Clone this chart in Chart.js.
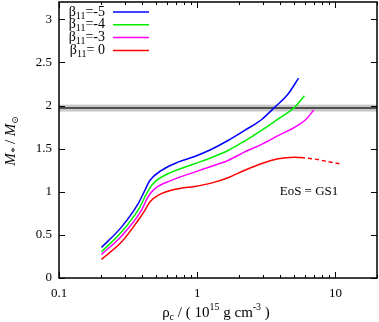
<!DOCTYPE html>
<html>
<head>
<meta charset="utf-8">
<script src="https://cdn.jsdelivr.net/npm/chart.js"></script>
<style>
  html, body { margin: 0; padding: 0; background: #fff; }
  #wrap { width: 379px; height: 322px; }
</style>
</head>
<body>
<div id="wrap"><canvas id="chart" width="379" height="322"></canvas></div>
<script>
// values: central density (1e15 g/cm^3) vs M/Msun
const rhoB5  = [0.203, 0.284, 0.374, 0.418, 0.454, 0.551, 0.726, 0.958, 1.26, 1.67, 2.19, 2.9, 3.63, 4.53, 5.41];
const massB5 = [0.354, 0.593, 0.862, 1.016, 1.13, 1.247, 1.343, 1.409, 1.49, 1.594, 1.709, 1.832, 1.978, 2.13, 2.317];

const rhoB4  = [0.203, 0.284, 0.385, 0.43, 0.479, 0.615, 0.958, 1.26, 1.67, 2.19, 2.9, 3.85, 5.06, 5.97];
const massB4 = [0.304, 0.535, 0.823, 0.978, 1.094, 1.209, 1.324, 1.394, 1.478, 1.585, 1.709, 1.844, 1.978, 2.113];

const rhoB3  = [0.203, 0.284, 0.395, 0.44, 0.494, 0.65, 0.958, 1.26, 1.67, 2.19, 2.9, 3.85, 5.06, 6.17, 6.97];
const massB3 = [0.274, 0.488, 0.785, 0.939, 1.036, 1.132, 1.228, 1.293, 1.363, 1.459, 1.547, 1.651, 1.747, 1.844, 1.948];

const rhoB0  = [0.203, 0.284, 0.374, 0.418, 0.454, 0.52, 0.726, 0.958, 1.26, 1.67, 2.19, 2.9, 3.85, 5.06, 5.64];
const massB0 = [0.216, 0.419, 0.67, 0.785, 0.881, 0.958, 1.036, 1.062, 1.10, 1.163, 1.247, 1.324, 1.382, 1.40, 1.397];

// unstable branch of the beta11 = 0 curve (dashed)
const rhoB0dash  = [5.64, 7.0, 8.8, 10.7];
const massB0dash = [1.397, 1.38, 1.35, 1.325];

const legendNames = ['-5', '-4', '-3', ' 0'];
const lineColors = ['#0000ff', '#00ee00', '#ff00ff', '#ff0000'];

// observed 1.97 +- 0.04 Msun band
const bandMid = 1.97;
const bandLow = 1.93;
const bandHigh = 2.01;

const xTicks = [0.1, 1, 10];
const xMinorTicks = [0.2, 0.3, 0.4, 0.5, 0.6, 0.7, 0.8, 0.9, 2, 3, 4, 5, 6, 7, 8, 9, 20];
const yTicks = [0, 0.5, 1, 1.5, 2, 2.5, 3];

const SERIF = '"Liberation Serif", "DejaVu Serif", serif';

const toPoints = (xs, ys) => xs.map((x, i) => ({ x: x, y: ys[i] }));

const makeSet = (data, color, dash) => ({
    data: data,
    showLine: true,
    borderColor: color,
    borderWidth: 1.5,
    borderDash: dash || [],
    pointRadius: 0,
    fill: false,
    cubicInterpolationMode: 'monotone'
});

// draw a run of text pieces with sub/superscripts, return total width
const drawPieces = (ctx, pieces, x, y, measureOnly) => {
    let cx = x;
    pieces.forEach(p => {
        ctx.font = (p.italic ? 'italic ' : '') + p.size + 'px ' + SERIF;
        if (!measureOnly) ctx.fillText(p.t, cx, y + (p.dy || 0));
        cx += ctx.measureText(p.t).width;
    });
    return cx - x;
};

const decorPlugin = {
    id: 'decor',
    beforeDatasetsDraw(chart) {
        const { ctx, chartArea: a, scales: { y } } = chart;
        ctx.save();
        ctx.fillStyle = '#c8c8c8';
        const yt = y.getPixelForValue(bandHigh);
        const yb = y.getPixelForValue(bandLow);
        ctx.fillRect(a.left, yt, a.right - a.left, yb - yt);
        ctx.strokeStyle = '#505050';
        ctx.lineWidth = 2;
        ctx.beginPath();
        ctx.moveTo(a.left, y.getPixelForValue(bandMid));
        ctx.lineTo(a.right, y.getPixelForValue(bandMid));
        ctx.stroke();
        ctx.restore();
    },
    afterDraw(chart) {
        const { ctx, chartArea: a, scales: { x, y } } = chart;
        ctx.save();
        ctx.strokeStyle = '#000';
        ctx.lineWidth = 1.5;
        ctx.strokeRect(a.left, a.top, a.right - a.left, a.bottom - a.top);

        // inward ticks
        ctx.lineWidth = 1;
        ctx.beginPath();
        const xt = (v, len) => {
            const px = Math.round(x.getPixelForValue(v)) + 0.5;
            ctx.moveTo(px, a.bottom); ctx.lineTo(px, a.bottom - len);
            ctx.moveTo(px, a.top); ctx.lineTo(px, a.top + len);
        };
        xTicks.forEach(v => xt(v, 6));
        xMinorTicks.forEach(v => xt(v, 3));
        yTicks.forEach(v => {
            const py = Math.round(y.getPixelForValue(v)) + 0.5;
            ctx.moveTo(a.left, py); ctx.lineTo(a.left + 6, py);
            ctx.moveTo(a.right, py); ctx.lineTo(a.right - 6, py);
        });
        ctx.stroke();

        // legend
        ctx.fillStyle = '#000';
        ctx.textBaseline = 'middle';
        ctx.textAlign = 'left';
        legendNames.forEach((name, i) => {
            const ly = 12 + 12.8 * i;
            const pieces = [
                { t: '\u03b2', size: 14 },
                { t: '11', size: 10, dy: 4 },
                { t: '=' + name, size: 14 }
            ];
            const w = drawPieces(ctx, pieces, 0, 0, true);
            drawPieces(ctx, pieces, 105 - w, ly);
            ctx.strokeStyle = lineColors[i];
            ctx.lineWidth = 1.5;
            ctx.beginPath();
            ctx.moveTo(113, ly);
            ctx.lineTo(149, ly);
            ctx.stroke();
        });

        // annotation
        ctx.font = '13px ' + SERIF;
        ctx.textAlign = 'center';
        ctx.fillText('EoS = GS1', 309, 192);

        // x title
        ctx.textAlign = 'left';
        ctx.textBaseline = 'alphabetic';
        const xt1 = [
            { t: '\u03c1', size: 15 },
            { t: 'c', size: 10, dy: 3 },
            { t: ' / ( 10', size: 15 },
            { t: '15', size: 10, dy: -7 },
            { t: ' g cm', size: 15 },
            { t: '-3', size: 10, dy: -7 },
            { t: ' )', size: 15 }
        ];
        const wx = drawPieces(ctx, xt1, 0, 0, true);
        drawPieces(ctx, xt1, 216 - wx / 2, 317);

        // y title, rotated
        ctx.translate(15, 141);
        ctx.rotate(-Math.PI / 2);
        const yt1 = [
            { t: 'M', size: 15, italic: true },
            { t: '*', size: 11, dy: 3, italic: true },
            { t: ' / ', size: 15 },
            { t: 'M', size: 15, italic: true },
            { t: '\u2299', size: 9, dy: 3 }
        ];
        const wy = drawPieces(ctx, yt1, 0, 0, true);
        drawPieces(ctx, yt1, -wy / 2, 0);
        ctx.restore();
    }
};

new Chart(document.getElementById('chart'), {
    type: 'scatter',
    data: {
        datasets: [
            makeSet(toPoints(rhoB5, massB5), lineColors[0]),
            makeSet(toPoints(rhoB4, massB4), lineColors[1]),
            makeSet(toPoints(rhoB3, massB3), lineColors[2]),
            makeSet(toPoints(rhoB0, massB0), lineColors[3]),
            makeSet(toPoints(rhoB0dash, massB0dash), lineColors[3], [4, 3])
        ]
    },
    options: {
        responsive: false,
        animation: false,
        layout: { padding: { top: 2, right: 2, left: 0, bottom: 0 } },
        plugins: {
            legend: { display: false },
            tooltip: { enabled: false }
        },
        scales: {
            x: {
                type: 'logarithmic',
                min: 0.1,
                max: 20,
                afterBuildTicks: s => { s.ticks = xTicks.map(v => ({ value: v })); },
                afterFit: s => {
                    s.height = 44;
                    s.paddingLeft = 0; s.paddingRight = 0;
                },
                ticks: {
                    color: '#000',
                    font: { family: SERIF, size: 13 },
                    padding: 8,
                    maxRotation: 0,
                    autoSkip: false,
                    callback: v => String(v)
                },
                grid: { display: false, drawTicks: false },
                border: { display: false }
            },
            y: {
                min: 0,
                max: 3.2,
                afterBuildTicks: s => { s.ticks = yTicks.map(v => ({ value: v })); },
                afterFit: s => {
                    s.width = 59;
                    s.paddingTop = 0; s.paddingBottom = 0;
                },
                ticks: {
                    color: '#000',
                    font: { family: SERIF, size: 13 },
                    padding: 7,
                    autoSkip: false,
                    callback: v => String(v)
                },
                grid: { display: false, drawTicks: false },
                border: { display: false }
            }
        }
    },
    plugins: [decorPlugin]
});
</script>
</body>
</html>
